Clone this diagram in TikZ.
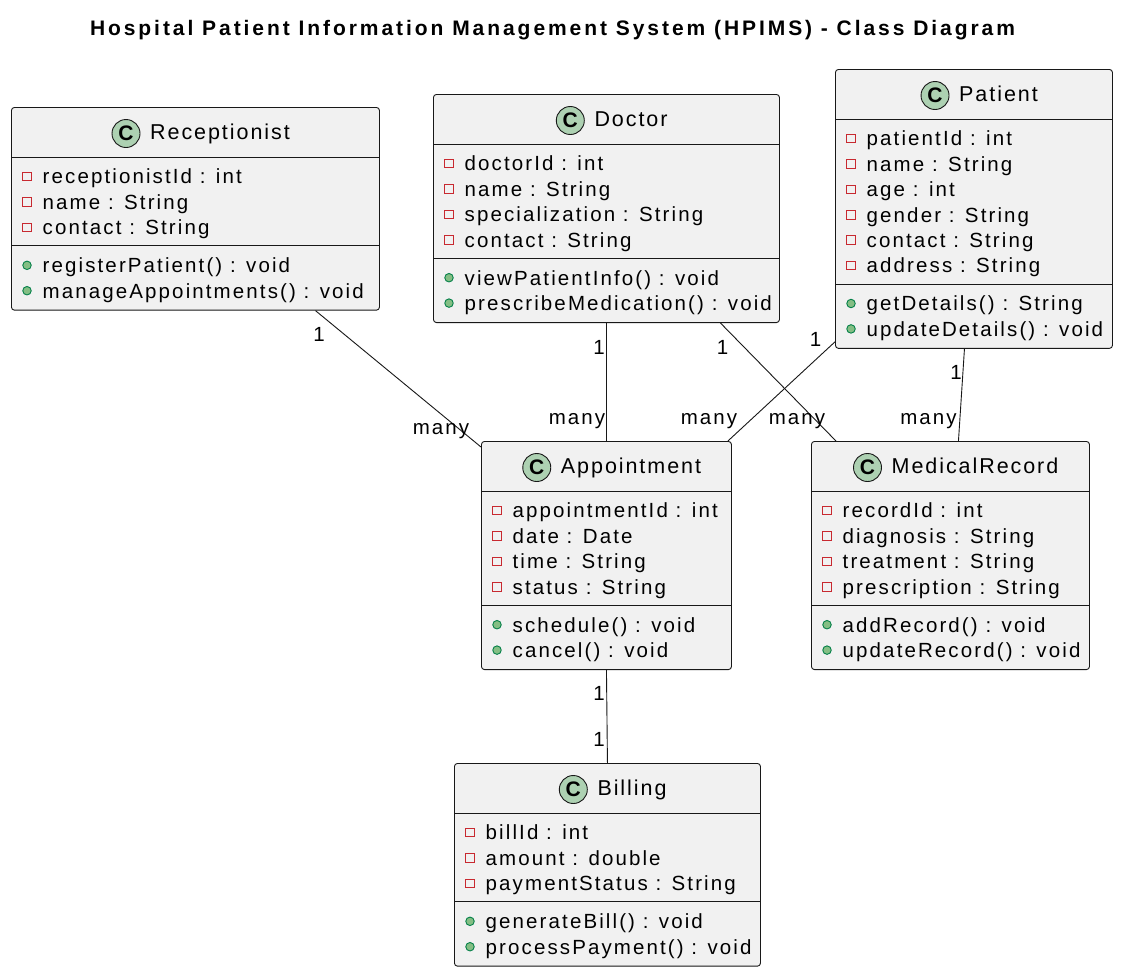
\documentclass[tikz,border=0pt]{standalone}
\usepackage{fontspec}
\setmainfont{Liberation Sans}
\newfontfamily\lsp[LetterSpace=10.3]{Liberation Sans}
\newfontfamily\lspn[LetterSpace=9]{Liberation Sans}
\newfontfamily\lspt[LetterSpace=14]{Liberation Sans}
\usetikzlibrary{calc}
\definecolor{bordc}{HTML}{181818}
\definecolor{boxf}{HTML}{F1F1F1}
\definecolor{circf}{HTML}{ADD1B2}
\definecolor{privc}{HTML}{C82930}
\definecolor{pubf}{HTML}{84BE84}
\definecolor{pubd}{HTML}{038048}
\newcommand\memfont{\lsp\fontsize{20.5}{22}\selectfont}
\newcommand\namefont{\lspn\fontsize{21.5}{23}\selectfont}
\tikzset{
  cls/.style={draw=bordc, fill=boxf, line width=0.9pt, rounded corners=3pt, inner sep=0pt, rectangle},
  sepl/.style={draw=bordc, line width=0.9pt},
  member/.style={anchor=west, inner sep=0pt, font=\memfont, text height=14.7pt, text depth=0pt},
  cname/.style={inner sep=0pt, font=\namefont, text height=15.4pt, text depth=0pt},
  cc/.style={circle, draw=bordc, fill=circf, line width=0.9pt, minimum size=28pt, inner sep=0pt, font=\fontsize{21}{21}\selectfont\bfseries},
  privmark/.style={rectangle, draw=privc, line width=0.9pt, minimum size=8.5pt, inner sep=0pt},
  pubmark/.style={circle, draw=pubd, fill=pubf, line width=0.9pt, minimum size=8.5pt, inner sep=0pt},
  conn/.style={draw=bordc, line width=0.9pt},
  lbl/.style={inner sep=0pt, font=\memfont, text height=14.7pt, text depth=0pt}
}
% #1 id, #2 name, #3 L, #4 R, #5 header line y, #6 n attrs, #7 n methods, #8 attrs, #9 methods
\newcommand\umlclass[9]{%
  \pgfmathsetmacro\cT{#5-50}%
  \pgfmathsetmacro\cS{#5+19.5+25.4*(#6-1)+18.5}%
  \pgfmathsetmacro\cB{\cS+19.5+25.4*(#7-1)+19}%
  \pgfmathsetmacro\cW{#4-#3}%
  \pgfmathsetmacro\cHt{\cB-\cT}%
  \node[cls, minimum width=\cW pt, minimum height=\cHt pt, anchor=north west] (#1) at (#3,\cT) {};
  \draw[sepl] (#3,#5) -- (#4,#5);
  \draw[sepl] (#3,\cS) -- (#4,\cS);
  \node[cname] (#1-name) at ({(#3+#4)/2+25},{#5-25}) {#2};
  \node[cc] (#1-c) at ([xshift=-24pt,yshift=-1.5pt]#1-name.west) {C};
  \foreach \t [count=\i] in {#8} {
    \node[privmark] (#1-am\i) at ({#3+16},{#5+19.5+25.4*(\i-1)}) {};
    \node[member] (#1-a\i) at ({#3+31.5},{#5+19.5+25.4*(\i-1)}) {\t};
  }
  \foreach \t [count=\i] in {#9} {
    \node[pubmark] (#1-mm\i) at ({#3+16},{\cS+19.5+25.4*(\i-1)}) {};
    \node[member] (#1-m\i) at ({#3+31.5},{\cS+19.5+25.4*(\i-1)}) {\t};
  }
}
\begin{document}
\begin{tikzpicture}[x=1pt,y=-1pt]
\fill[white] (0,0) rectangle (1123,975);
\useasboundingbox (0,0) rectangle (1123,975);

\node[inner sep=0pt, font=\lspt\fontsize{21}{23}\selectfont\bfseries, text height=15pt, text depth=0pt] (title) at (552.5,28) {Hospital Patient Information Management System (HPIMS) - Class Diagram};

\umlclass{rec}{Receptionist}{11}{379}{157}{3}{2}%
  {{receptionistId : int},{name : String},{contact : String}}%
  {{registerPatient() : void},{manageAppointments() : void}}
\umlclass{doc}{Doctor}{433}{779}{144}{4}{2}%
  {{doctorId : int},{name : String},{specialization : String},{contact : String}}%
  {{viewPatientInfo() : void},{prescribeMedication() : void}}
\umlclass{pat}{Patient}{835}{1112}{119}{6}{2}%
  {{patientId : int},{name : String},{age : int},{gender : String},{contact : String},{address : String}}%
  {{getDetails() : String},{updateDetails() : void}}
\umlclass{app}{Appointment}{481}{731}{491}{4}{2}%
  {{appointmentId : int},{date : Date},{time : String},{status : String}}%
  {{schedule() : void},{cancel() : void}}
\umlclass{med}{MedicalRecord}{811}{1089}{491}{4}{2}%
  {{recordId : int},{diagnosis : String},{treatment : String},{prescription : String}}%
  {{addRecord() : void},{updateRecord() : void}}
\umlclass{bil}{Billing}{454}{760}{813}{3}{2}%
  {{billId : int},{amount : double},{paymentStatus : String}}%
  {{generateBill() : void},{processPayment() : void}}

% connectors
\draw[conn] ([xshift=120pt]rec.south) -- ([yshift=-6pt]app.north west);
\draw[conn] (doc.south) -- (app.north);
\draw[conn] ([xshift=114pt]doc.south) -- ([xshift=25pt]med.north west);
\draw[conn] ([yshift=7pt]pat.south west) -- ([xshift=-4pt]app.north east);
\draw[conn] ([xshift=-9.5pt]pat.south) -- ([xshift=8pt]med.north);
\draw[conn] (app.south) -- (bil.north);

% multiplicities
\node[lbl] (l1a) at (319,334) {1};
\node[lbl] (l1b) at (441,427) {many};
\node[lbl] (l2a) at (599,347) {1};
\node[lbl] (l2b) at (577,417) {many};
\node[lbl] (l3a) at (722.5,347) {1};
\node[lbl] (l3b) at (797,417) {many};
\node[lbl] (l4a) at (815.5,339) {1};
\node[lbl] (l4b) at (709,417) {many};
\node[lbl] (l5a) at (956,372) {1};
\node[lbl] (l5b) at (928.5,417) {many};
\node[lbl] (l6a) at (599,693) {1};
\node[lbl] (l6b) at (599,739.5) {1};
\end{tikzpicture}
\end{document}
